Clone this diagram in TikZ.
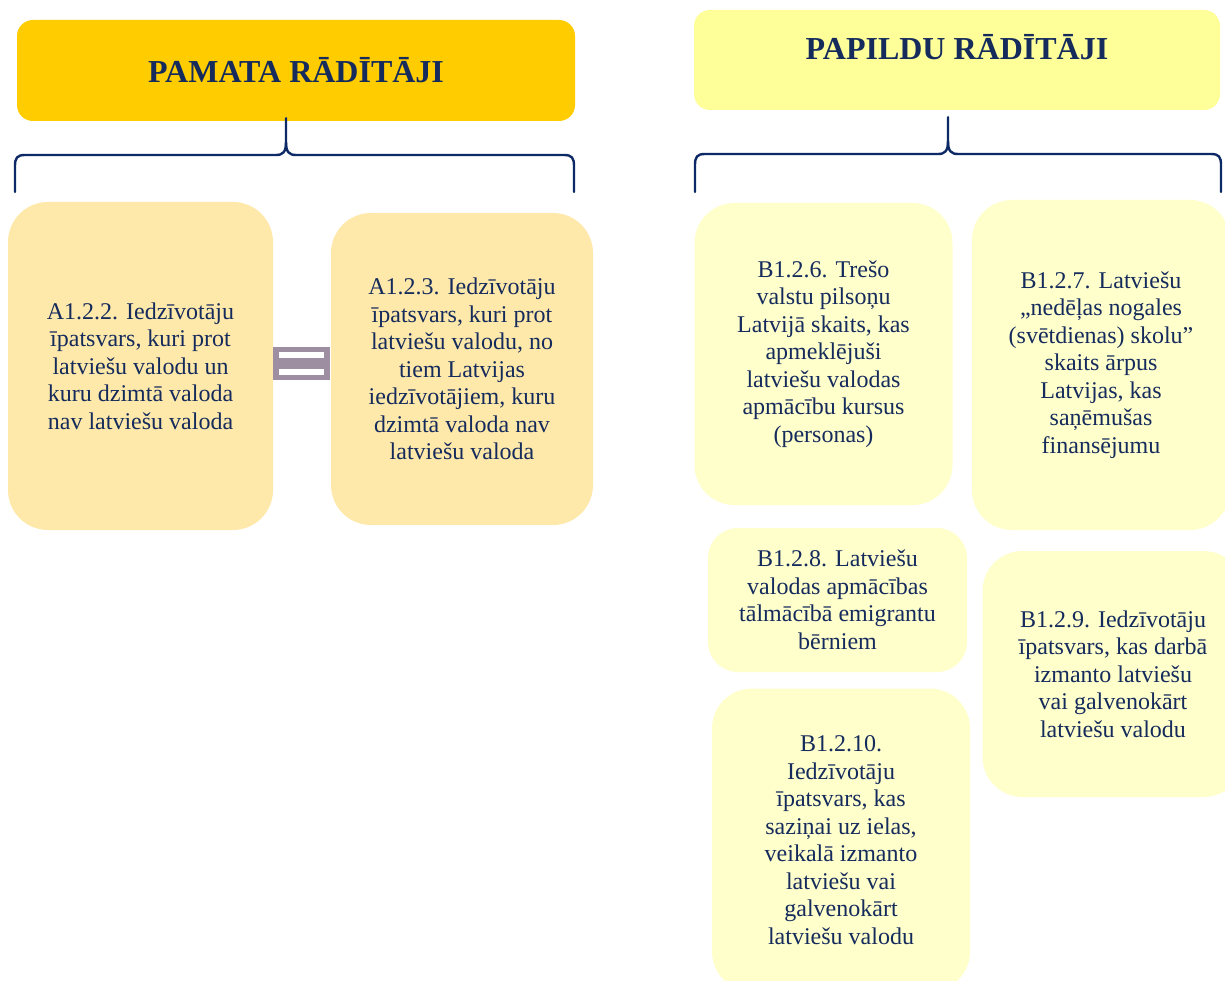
\documentclass[tikz,border=0pt]{standalone}
\usepackage{fontspec}
\setmainfont{Liberation Serif}
\usepackage{xcolor}
\usepackage{tikz}
\usetikzlibrary{calc,positioning}
\definecolor{zelts}{HTML}{FFCC00}
\definecolor{gaissdz}{HTML}{FFFF99}
\definecolor{persiks}{HTML}{FFE9AA}
\definecolor{krejums}{HTML}{FFFFCC}
\definecolor{tumszils}{HTML}{152B5C}
\definecolor{skavzils}{HTML}{0E2A66}
\definecolor{pelekvioleta}{HTML}{9D8FA1}
\tikzset{
  galva/.style={rectangle, rounded corners=16pt, inner sep=0pt, text=tumszils,
    font=\fontsize{32}{36}\selectfont\bfseries},
  karte/.style={rectangle, rounded corners=40pt, inner sep=0pt, align=center,
    text=tumszils, font=\fontsize{24}{27.5}\selectfont},
  akarte/.style={karte, fill=persiks},
  bkarte/.style={karte, fill=krejums},
  skava/.style={draw=skavzils, line width=2.4pt, line cap=round, line join=round},
  vienadiba/.style={rectangle, fill=pelekvioleta, inner sep=0pt, minimum width=57pt, minimum height=33pt},
}
\begin{document}
\begin{tikzpicture}[x=1pt,y=-1pt]
\useasboundingbox[fill=white] (0,0) rectangle (1225,981);

% galvenes
\node[galva, fill=zelts, minimum width=558pt, minimum height=101pt] (pamata) at (296,70.5) {PAMATA RĀDĪTĀJI};
\node[galva, fill=gaissdz, minimum width=526pt, minimum height=100pt] (papildu) at (957,60) {};
\node[galva] (papildutxt) at (957,47) {PAPILDU RĀDĪTĀJI};

% pamata raditaji
\node[akarte, minimum width=265pt, minimum height=328pt] (a122) at (140.5,366)
  {A1.2.2. Iedzīvotāju\\īpatsvars, kuri prot\\latviešu valodu un\\kuru dzimtā valoda\\nav latviešu valoda};
\node[akarte, minimum width=262pt, minimum height=312pt] (a123) at (462,369)
  {A1.2.3. Iedzīvotāju\\īpatsvars, kuri prot\\latviešu valodu, no\\tiem Latvijas\\iedzīvotājiem, kuru\\dzimtā valoda nav\\latviešu valoda};

% vienadibas zime
\node[vienadiba] (vienads) at (301.5,363.5) {};
\fill[white] ($(vienads.center)+(-22.5,-11.5)$) rectangle +(45,6);
\fill[white] ($(vienads.center)+(-22.5,5.5)$) rectangle +(45,5.5);

% papildu raditaji
\node[bkarte, minimum width=258pt, minimum height=302pt] (b126) at (823.5,354)
  {B1.2.6. Trešo\\valstu pilsoņu\\Latvijā skaits, kas\\apmeklējuši\\latviešu valodas\\apmācību kursus\\(personas)};
\node[bkarte, minimum width=258pt, minimum height=330pt] (b127) at (1101,365)
  {B1.2.7. Latviešu\\„nedēļas nogales\\(svētdienas) skolu”\\skaits ārpus\\Latvijas, kas\\saņēmušas\\finansējumu};
\node[bkarte, rounded corners=30pt, minimum width=259pt, minimum height=144pt] (b128) at (837.5,600)
  {B1.2.8. Latviešu\\valodas apmācības\\tālmācībā emigrantu\\bērniem};
\node[bkarte, minimum width=261pt, minimum height=246pt] (b129) at (1113,674)
  {B1.2.9. Iedzīvotāju\\īpatsvars, kas darbā\\izmanto latviešu\\vai galvenokārt\\latviešu valodu};
\node[bkarte, minimum width=258pt, minimum height=303pt] (b1210) at (841,840)
  {B1.2.10.\\Iedzīvotāju\\īpatsvars, kas\\saziņai uz ielas,\\veikalā izmanto\\latviešu vai\\galvenokārt\\latviešu valodu};

% figuriekavas
\coordinate (pamatasmaile) at ($(pamata.south)+(-10,-3)$);
\coordinate (papildusmaile) at ($(papildu.south)+(-9,7)$);
\draw[skava] (15,192) -- (15,166) .. controls (15,158) and (17,155) .. (25,155)
  -- (276,155) .. controls (283,155) and (286,152) .. (286,142) -- (pamatasmaile);
\draw[skava] (574,192) -- (574,166) .. controls (574,158) and (572,155) .. (564,155)
  -- (296,155) .. controls (289,155) and (286,152) .. (286,142);
\draw[skava] (695,192) -- (695,165) .. controls (695,157) and (697,154) .. (705,154)
  -- (938,154) .. controls (945,154) and (948,151) .. (948,141) -- (papildusmaile);
\draw[skava] (1221,192) -- (1221,165) .. controls (1221,157) and (1219,154) .. (1211,154)
  -- (958,154) .. controls (951,154) and (948,151) .. (948,141);
\end{tikzpicture}
\end{document}
